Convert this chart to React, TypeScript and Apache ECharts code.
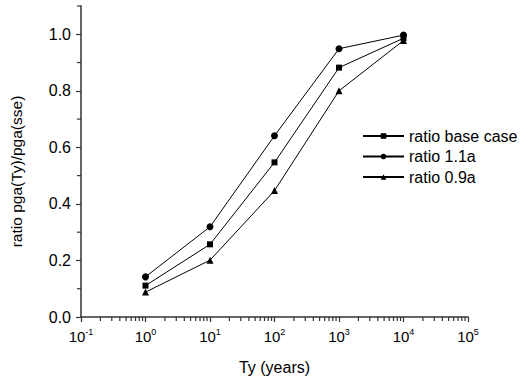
import React, { useEffect, useRef } from "react";
import * as echarts from "echarts";

const years = [1, 10, 100, 1000, 10000];
const baseCase = [0.111, 0.257, 0.547, 0.882, 0.986];
const ratio11a = [0.142, 0.319, 0.641, 0.949, 0.997];
const ratio09a = [0.088, 0.201, 0.447, 0.8, 0.978];
const seriesNames = ["ratio base case", "ratio 1.1a", "ratio 0.9a"];

const xMajorTicks = [0.1, 1, 10, 100, 1000, 10000, 100000];
const xMinorTicks = [
  0.2, 0.3, 0.4, 0.5, 0.6, 0.7, 0.8, 0.9,
  2, 3, 4, 5, 6, 7, 8, 9,
  20, 30, 40, 50, 60, 70, 80, 90,
  200, 300, 400, 500, 600, 700, 800, 900,
  2000, 3000, 4000, 5000, 6000, 7000, 8000, 9000,
  20000, 30000, 40000, 50000, 60000, 70000, 80000, 90000,
];
const yMajorTicks = [0, 0.2, 0.4, 0.6, 0.8, 1.0];
const yMinorTicks = [0.1, 0.3, 0.5, 0.7, 0.9, 1.1];

const X_MIN = 0.1;
const X_MAX = 100000;
const Y_MIN = 0;
const Y_MAX = 1.1;

const FONT = "Liberation Sans, Arial, sans-serif";
const AXIS_COLOR = "#333333";

export default function App() {
  const ref = useRef<HTMLDivElement>(null);
  useEffect(() => {
    if (!ref.current) return;
    const chart = echarts.init(ref.current, null, { renderer: "svg" });
    const mk = (values: number[]) => years.map((y, i) => [y, values[i]]);
    chart.setOption({
      animation: false,
      textStyle: { fontFamily: FONT },
      grid: { left: 80, right: 55, top: 6, bottom: 64 },
      legend: {
        orient: "vertical",
        left: 357,
        top: 123,
        itemWidth: 41,
        itemHeight: 7,
        itemGap: 4.5,
        textStyle: { fontSize: 16, color: "#000", fontFamily: FONT },
        data: seriesNames,
      },
      xAxis: {
        type: "log",
        logBase: 10,
        min: X_MIN,
        max: X_MAX,
        position: "bottom",
        name: "Ty (years)",
        nameLocation: "middle",
        nameGap: 42,
        nameTextStyle: { fontSize: 16, color: "#000", fontFamily: FONT },
        axisLine: { show: true, lineStyle: { color: AXIS_COLOR, width: 1.5 } },
        axisTick: { show: true, inside: false, length: 5, customValues: xMajorTicks, lineStyle: { color: AXIS_COLOR, width: 1.2 } },
        axisLabel: {
          customValues: xMajorTicks,
          margin: 10,
          color: "#000",
          formatter: (v: number) => `{b|10}{s|${Math.round(Math.log10(v))}}`,
          rich: {
            b: { fontSize: 15, fontFamily: FONT, color: "#000" },
            s: { fontSize: 9, fontFamily: FONT, color: "#000", verticalAlign: "bottom", padding: [0, 0, 9, 0] },
          },
        },
        splitLine: { show: false },
        minorTick: { show: false },
      },
      yAxis: {
        type: "value",
        min: Y_MIN,
        max: Y_MAX,
        position: "left",
        name: "ratio pga(Ty)/pga(sse)",
        nameLocation: "middle",
        nameGap: 57,
        nameTextStyle: { fontSize: 15.5, color: "#000", fontFamily: FONT, padding: [0, 20, 0, 0] },
        axisLine: { show: true, lineStyle: { color: AXIS_COLOR, width: 1.5 } },
        axisTick: { show: true, inside: false, length: 5, customValues: yMajorTicks, lineStyle: { color: AXIS_COLOR, width: 1.2 } },
        axisLabel: {
          customValues: yMajorTicks,
          margin: 10,
          fontSize: 16,
          color: "#000",
          formatter: (v: number) => v.toFixed(1),
        },
        splitLine: { show: false },
      },
      series: [
        {
          type: "scatter",
          silent: true,
          clip: false,
          data: xMinorTicks.map((v) => [v, Y_MIN]),
          symbol: "rect",
          symbolSize: [1.2, 4],
          symbolOffset: [0, 2],
          itemStyle: { color: AXIS_COLOR, opacity: 1 },
          z: 1,
        },
        {
          type: "scatter",
          silent: true,
          clip: false,
          data: yMinorTicks.map((v) => [X_MIN, v]),
          symbol: "rect",
          symbolSize: [4, 1.2],
          symbolOffset: [-2, 0],
          itemStyle: { color: AXIS_COLOR, opacity: 1 },
          z: 1,
        },
        {
          name: seriesNames[0],
          type: "line",
          data: mk(baseCase),
          symbol: "rect",
          symbolSize: 6,
          color: "#000",
          lineStyle: { color: "#000", width: 1 },
          itemStyle: { color: "#000" },
          z: 3,
        },
        {
          name: seriesNames[1],
          type: "line",
          data: mk(ratio11a),
          symbol: "circle",
          symbolSize: 7,
          color: "#000",
          lineStyle: { color: "#000", width: 1 },
          itemStyle: { color: "#000" },
          z: 3,
        },
        {
          name: seriesNames[2],
          type: "line",
          data: mk(ratio09a),
          symbol: "triangle",
          symbolSize: 7,
          color: "#000",
          lineStyle: { color: "#000", width: 1 },
          itemStyle: { color: "#000" },
          z: 3,
        },
      ],
    });
    return () => chart.dispose();
  }, []);
  return <div ref={ref} style={{ width: 523, height: 381, position: "absolute", left: 0, top: 0 }} />;
}
